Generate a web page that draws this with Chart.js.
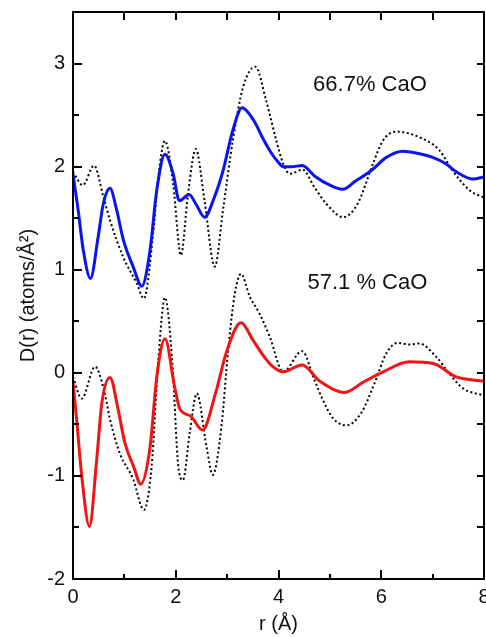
<!DOCTYPE html>
<html>
<head>
<meta charset="utf-8">
<script src="https://cdn.jsdelivr.net/npm/chart.js@4.4.0/dist/chart.umd.min.js"></script>
<style>
  html, body { margin: 0; padding: 0; background: #fff; }
</style>
</head>
<body>
<canvas id="chartDr" width="486" height="637"></canvas>
<script>
// 66.7% CaO - solid blue curve
const r667 = [0.00, 0.10, 0.20, 0.34, 0.49, 0.59, 0.72, 0.85, 0.98, 1.17, 1.34, 1.50, 1.63, 1.79, 1.95, 2.07,
    2.26, 2.40, 2.56, 2.75, 2.92, 3.11, 3.29, 3.40, 3.55, 3.70, 3.85, 4.00, 4.09, 4.25, 4.46, 4.70, 5.00,
    5.25, 5.50, 5.80, 6.10, 6.42, 6.70, 7.00, 7.25, 7.46, 7.79, 8.00];
const d667 = [1.93, 1.58, 1.19, 0.915, 1.32, 1.64, 1.79, 1.58, 1.29, 1.03, 0.84, 1.19, 1.77, 2.12, 1.93, 1.67,
    1.73, 1.63, 1.51, 1.70, 1.96, 2.35, 2.57, 2.53, 2.42, 2.27, 2.14, 2.04, 2.00, 2.00, 2.01, 1.91, 1.82,
    1.78, 1.86, 1.96, 2.09, 2.15, 2.13, 2.09, 2.03, 1.95, 1.88, 1.90];

// 66.7% CaO - dotted reference curve
const r667ref = [0.00, 0.19, 0.41, 0.59, 0.72, 0.98, 1.24, 1.38, 1.56, 1.66, 1.79, 1.95, 2.10, 2.24, 2.39, 2.56,
    2.76, 2.92, 3.11, 3.31, 3.55, 3.76, 3.96, 4.09, 4.22, 4.47, 4.70, 4.93, 5.26, 5.54, 5.84, 6.03,
    6.29, 6.81, 7.13, 7.39, 7.72, 8.00];
const d667ref = [1.95, 1.82, 2.01, 1.71, 1.48, 1.12, 0.87, 0.72, 1.35, 1.90, 2.25, 1.83, 1.14, 1.74, 2.17, 1.67,
    1.03, 1.58, 2.25, 2.77, 2.97, 2.64, 2.25, 2.03, 1.93, 1.97, 1.80, 1.64, 1.51, 1.64, 2.03, 2.25,
    2.34, 2.27, 2.16, 1.96, 1.77, 1.70];

// 57.1% CaO - solid red curve
const r571 = [0.00, 0.07, 0.17, 0.32, 0.46, 0.56, 0.72, 0.88, 1.01, 1.18, 1.32, 1.50, 1.63, 1.79, 1.98, 2.08,
    2.29, 2.52, 2.79, 2.98, 3.27, 3.50, 3.70, 3.89, 4.09, 4.46, 4.80, 5.29, 5.65, 6.00, 6.55, 7.01,
    7.46, 8.00];
const d571 = [-0.09, -0.45, -1.00, -1.49, -0.85, -0.30, -0.045, -0.36, -0.68, -0.91, -1.08, -0.72, -0.04, 0.33, -0.14, -0.35,
    -0.42, -0.555, -0.17, 0.19, 0.485, 0.32, 0.17, 0.06, 0.01, 0.075, -0.08, -0.19, -0.09, 0.00, 0.107, 0.09,
    -0.04, -0.08];

// 57.1% CaO - dotted reference curve
const r571ref = [0.00, 0.17, 0.43, 0.60, 0.72, 0.91, 1.17, 1.38, 1.53, 1.66, 1.79, 1.93, 2.05, 2.14, 2.27, 2.41,
    2.60, 2.72, 2.89, 3.02, 3.15, 3.27, 3.44, 3.63, 3.83, 4.09, 4.46, 4.70, 4.86, 5.06, 5.32, 5.61,
    5.87, 6.10, 6.32, 6.55, 6.74, 7.07, 7.33, 7.59, 8.00];
const d571ref = [-0.04, -0.25, 0.06, -0.16, -0.45, -0.78, -1.03, -1.33, -0.91, 0.12, 0.73, 0.12, -0.91, -1.04, -0.59, -0.20,
    -0.72, -0.99, -0.52, 0.22, 0.77, 0.96, 0.74, 0.575, 0.35, 0.01, 0.21, -0.07, -0.26, -0.44, -0.51, -0.39,
    -0.10, 0.19, 0.29, 0.275, 0.285, 0.155, -0.01, -0.15, -0.22];

const xTicks = [0, 2, 4, 6, 8];
const yTicks = [-2, -1, 0, 1, 2, 3];
const panelLabels = ['66.7% CaO', '57.1 % CaO'];

const FONT = "'Liberation Sans', Arial, Helvetica, sans-serif";

function pts(xs, ys) {
    return xs.map((x, i) => ({ x: x, y: ys[i] }));
}

function solid(label, xs, ys, color) {
    return {
        label: label,
        data: pts(xs, ys),
        borderColor: color,
        borderWidth: 3,
        pointRadius: 0,
        fill: false,
        cubicInterpolationMode: 'monotone',
        order: 1
    };
}

function dotted(label, xs, ys) {
    return {
        label: label,
        data: pts(xs, ys),
        borderColor: '#000',
        borderWidth: 2,
        borderDash: [2, 2.6],
        pointRadius: 0,
        fill: false,
        cubicInterpolationMode: 'monotone',
        order: 2
    };
}

function noPad(scale) {
    scale.paddingLeft = 0;
    scale.paddingRight = 0;
    scale.paddingTop = 0;
    scale.paddingBottom = 0;
}

// frame + inward ticks on all four sides, plus the two labels
const framePlugin = {
    id: 'frame',
    afterDraw(chart) {
        const ctx = chart.ctx;
        const a = chart.chartArea;
        const xs = chart.scales.x, ys = chart.scales.y;
        const W = a.right - a.left, H = a.bottom - a.top;
        ctx.save();
        ctx.setLineDash([]);
        ctx.fillStyle = '#000';

        // x: 0..8 every 1, labels every 2; y: -2..3.5 every 0.5
        for (let i = 0; i <= 8; i++) {
            const px = Math.round(a.left + i / 8 * W);
            const len = (i % 2 === 0) ? 9 : 5;
            ctx.fillRect(px - 1, a.bottom - len, 2, len);
            ctx.fillRect(px - 1, a.top, 2, 8);
        }
        for (let j = 0; j <= 11; j++) {
            const py = Math.round(a.bottom - j / 11 * H);
            const len = (j % 2 === 0) ? 9 : 6;
            ctx.fillRect(a.left, py - 1, len, 2);
            ctx.fillRect(a.right - 7, py - 1, 7, 2);
        }

        // frame
        ctx.fillRect(a.left - 1, a.top - 1, W + 2, 2);
        ctx.fillRect(a.left - 1, a.bottom - 1, W + 2, 2);
        ctx.fillRect(a.left - 1, a.top - 1, 2, H + 2);
        ctx.fillRect(a.right - 1, a.top - 1, 2, H + 2);

        ctx.fillStyle = '#111';
        ctx.font = '22px ' + FONT;
        ctx.textAlign = 'center';
        ctx.textBaseline = 'middle';
        ctx.fillText(panelLabels[0], xs.getPixelForValue(5.78), ys.getPixelForValue(2.79));
        ctx.fillText(panelLabels[1], xs.getPixelForValue(5.73), ys.getPixelForValue(0.874));
        ctx.restore();
    }
};

const chartDr = document.getElementById('chartDr');

new Chart(chartDr, {
    type: 'line',
    data: {
        datasets: [
            solid('66.7% CaO', r667, d667, '#0a14f0'),
            dotted('66.7% CaO ref', r667ref, d667ref),
            solid('57.1% CaO', r571, d571, '#f01414'),
            dotted('57.1% CaO ref', r571ref, d571ref)
        ]
    },
    options: {
        responsive: false,
        animation: false,
        layout: { padding: { top: 12, right: 2, left: 0, bottom: 0 } },
        plugins: {
            legend: { display: false },
            tooltip: { enabled: false }
        },
        scales: {
            x: {
                type: 'linear',
                min: 0,
                max: 8,
                grid: { display: false, drawTicks: false },
                border: { display: false },
                ticks: {
                    stepSize: 2,
                    padding: 6,
                    color: '#111',
                    font: { family: FONT, size: 20 }
                },
                title: {
                    display: true,
                    text: 'r (Å)',
                    color: '#111',
                    font: { family: FONT, size: 20, lineHeight: 1.2 },
                    padding: { top: 0, bottom: 1 }
                },
                afterFit(scale) { scale.height = 58; noPad(scale); }
            },
            y: {
                type: 'linear',
                min: -2,
                max: 3.5,
                grid: { display: false, drawTicks: false },
                border: { display: false },
                ticks: {
                    stepSize: 1,
                    padding: 8,
                    color: '#111',
                    font: { family: FONT, size: 20 }
                },
                afterBuildTicks(scale) {
                    scale.ticks = scale.ticks.filter(t => yTicks.includes(t.value));
                },
                title: {
                    display: true,
                    text: 'D(r) (atoms/Å²)',
                    color: '#111',
                    font: { family: FONT, size: 20, lineHeight: 1.2 },
                    padding: { top: 16, bottom: 0 }
                },
                afterFit(scale) { scale.width = 73; noPad(scale); }
            }
        }
    },
    plugins: [framePlugin]
});
</script>
</body>
</html>
